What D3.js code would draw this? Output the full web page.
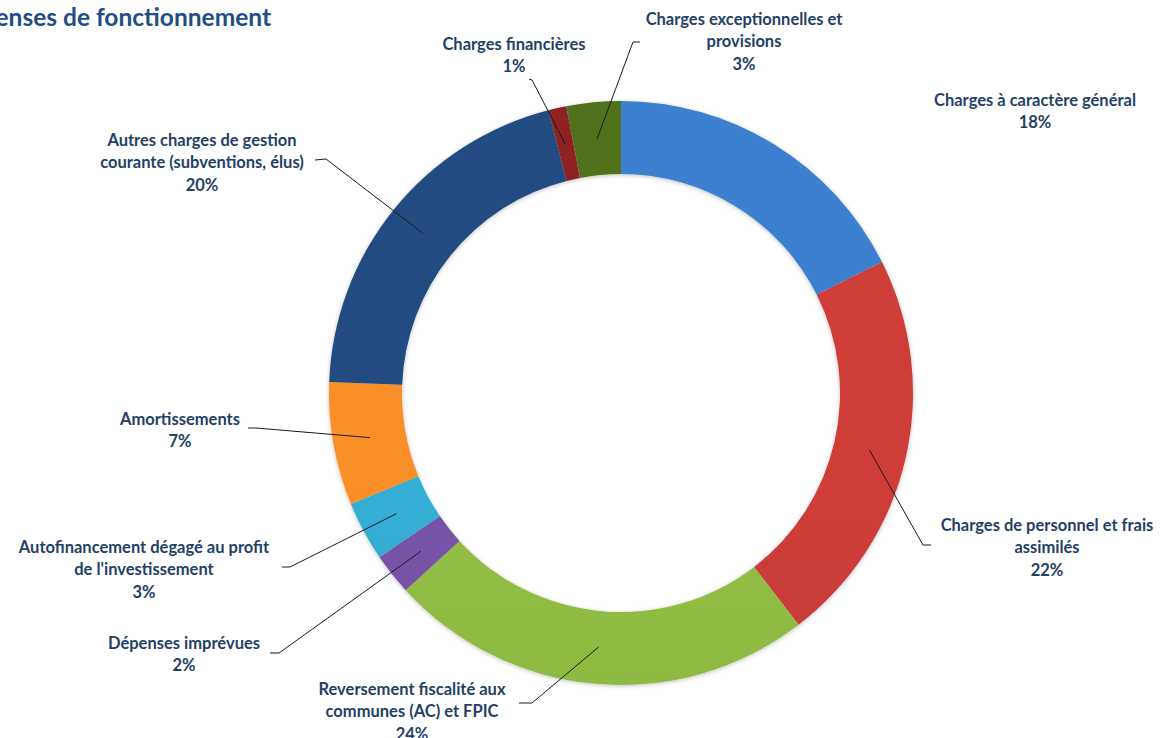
<!DOCTYPE html>
<html lang="fr">
<head>
    <meta charset="UTF-8">
    <title>Dépenses de fonctionnement</title>
    <script src="https://d3js.org/d3.v7.min.js"></script>
    <style>
        body { margin: 0; background: #fff; }
        svg { display: block; }
    </style>
</head>
<body>
    <svg width="1173" height="738"></svg>

    <script>
        // slices, clockwise from 12 o'clock
        const categories = [
            'Charges à caractère général',
            'Charges de personnel et frais assimilés',
            'Reversement fiscalité aux communes (AC) et FPIC',
            'Dépenses imprévues',
            "Autofinancement dégagé au profit de l'investissement",
            'Amortissements',
            'Autres charges de gestion courante (subventions, élus)',
            'Charges financières',
            'Charges exceptionnelles et provisions'
        ];
        const values = [17.6, 22.0, 23.6, 2.3, 3.3, 6.8, 20.4, 1.0, 3.0];
        const colors = ['#3a7cc9', '#c83b37', '#8fbb43', '#7451a3', '#33a9cf', '#f28b26', '#1f4a7e', '#8a1f1f', '#4f6e1d'];

        // label lines as drawn in the chart (wrapped text)
        const labelLines = [
            ['Charges à caractère général'],
            ['Charges de personnel et frais', 'assimilés'],
            ['Reversement fiscalité aux', 'communes (AC) et FPIC'],
            ['Dépenses imprévues'],
            ['Autofinancement dégagé au profit', "de l'investissement"],
            ['Amortissements'],
            ['Autres charges de gestion', 'courante (subventions, élus)'],
            ['Charges financières'],
            ['Charges exceptionnelles et', 'provisions']
        ];
        // label centre x / first line y, and leader stub (start, elbow)
        const labelPos = [
            [1035, 100], [1047, 525], [412, 689], [184, 643], [144, 547],
            [180, 419], [202, 140], [514, 44], [744, 19]
        ];
        const leaders = [
            null,
            [[931, 545], [923, 545]],
            [[519, 703], [532, 703]],
            [[270, 653], [279, 653]],
            [[282, 567], [290, 567]],
            [[248, 428], [256, 428]],
            [[315, 160], [326, 159]],
            [[529, 79], [532, 80]],
            [[640, 42], [633, 42]]
        ];

        const cx = 621, cy = 393;
        const outerR = 292, innerR = 219, leaderR = 255;
        const labelColor = '#243f66';

        const svg = d3.select('svg');
        const total = d3.sum(values);
        const pct = d3.format('.0%');

        const defs = svg.append('defs');
        defs.append('filter')
            .attr('id', 'shadow')
            .attr('x', '-10%').attr('y', '-10%')
            .attr('width', '120%').attr('height', '120%')
            .append('feDropShadow')
            .attr('dx', 0).attr('dy', 1)
            .attr('stdDeviation', 2)
            .attr('flood-color', '#000')
            .attr('flood-opacity', 0.25);

        colors.forEach((c, i) => {
            const g = defs.append('linearGradient')
                .attr('id', 'grad' + i)
                .attr('gradientUnits', 'userSpaceOnUse')
                .attr('x1', 0).attr('y1', cy - outerR)
                .attr('x2', 0).attr('y2', cy + outerR);
            g.append('stop').attr('offset', '0%').attr('stop-color', d3.color(c).brighter(0.08));
            g.append('stop').attr('offset', '100%').attr('stop-color', d3.color(c).darker(0.25));
        });

        svg.append('text')
            .attr('x', 271)
            .attr('y', 26)
            .attr('text-anchor', 'end')
            .attr('font-family', 'Lato, "Open Sans", sans-serif')
            .attr('font-weight', 'bold')
            .attr('font-size', 24.5)
            .attr('fill', '#1f4e86')
            .text('Dépenses de fonctionnement');

        const data = categories.map((name, i) => ({ name, value: values[i], i }));

        const pie = d3.pie()
            .sort(null)
            .value(d => d.value);

        const arc = d3.arc()
            .innerRadius(innerR)
            .outerRadius(outerR);

        const leaderArc = d3.arc()
            .innerRadius(leaderR)
            .outerRadius(leaderR);

        const arcs = pie(data);

        const chart = svg.append('g')
            .attr('transform', `translate(${cx},${cy})`);

        chart.append('g')
            .attr('filter', 'url(#shadow)')
            .selectAll('path')
            .data(arcs)
            .join('path')
            .attr('d', arc)
            .attr('fill', d => `url(#grad${d.data.i})`);

        // leader lines
        svg.append('g')
            .attr('fill', 'none')
            .attr('stroke', '#1a1a1a')
            .attr('stroke-width', 1)
            .selectAll('polyline')
            .data(arcs.filter(d => leaders[d.data.i]))
            .join('polyline')
            .attr('points', d => {
                const [a, b] = leaders[d.data.i];
                const c = leaderArc.centroid(d);
                return [a, b, [cx + c[0], cy + c[1]]].map(p => p.join(',')).join(' ');
            });

        // labels
        const labels = svg.append('g')
            .attr('font-family', 'Lato, "Open Sans", sans-serif')
            .attr('font-weight', 'bold')
            .attr('font-size', 16.5)
            .attr('fill', labelColor)
            .attr('text-anchor', 'middle')
            .selectAll('text')
            .data(arcs)
            .join('text')
            .attr('dominant-baseline', 'central');

        labels.selectAll('tspan')
            .data(d => labelLines[d.data.i].concat(pct(d.data.value / total)).map(t => ({ t, d })))
            .join('tspan')
            .attr('x', e => labelPos[e.d.data.i][0])
            .attr('y', (e, k) => labelPos[e.d.data.i][1] + k * 22.3)
            .text(e => e.t);
    </script>
</body>
</html>
